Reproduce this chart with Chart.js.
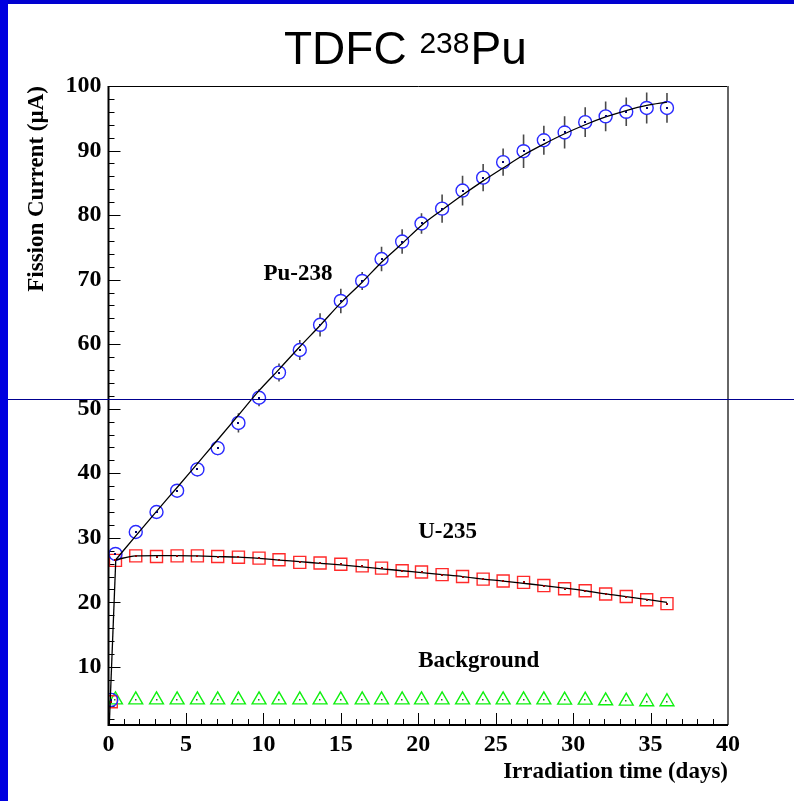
<!DOCTYPE html>
<html>
<head>
<meta charset="utf-8">
<script src="https://cdn.jsdelivr.net/npm/chart.js@4.4.0/dist/chart.umd.min.js"></script>
<style>
  html, body { margin: 0; padding: 0; background: #fff; }
  #wrap { position: relative; width: 794px; height: 801px; overflow: hidden; }
  #edgeTop { position: absolute; left: 0; top: 0; width: 794px; height: 4px; background: #0000d0; }
  #edgeLeft { position: absolute; left: 0; top: 0; width: 8px; height: 801px; background: #0000e0; }
  #titre { position: absolute; left: 284px; top: 25px; font: 46px "Liberation Sans", Arial, sans-serif;
           line-height: 46px; color: #000; white-space: nowrap; }
  #titre span { font-size: 30px; position: relative; top: -11px; margin-right: 1px; }
  canvas { position: absolute; left: 0; top: 0; }
</style>
</head>
<body>
<div id="wrap">
  <canvas id="c" width="794" height="801"></canvas>
  <div id="edgeTop"></div>
  <div id="edgeLeft"></div>
  <div id="titre">TDFC <span>238</span>Pu</div>
</div>
<script>
// irradiation days of each measurement
var days = [0.18, 0.45, 1.76, 3.10, 4.43, 5.74, 7.05, 8.39, 9.72, 11.01, 12.35, 13.66, 15.00, 16.38, 17.63,
            18.96, 20.21, 21.54, 22.86, 24.19, 25.48, 26.80, 28.11, 29.45, 30.78, 32.10, 33.43, 34.75, 36.06];
// fission current (uA)
var pu238 = [4.9, 27.5, 30.9, 34.0, 37.3, 40.6, 43.9, 47.8, 51.7, 55.6, 59.1, 63.0, 66.7, 69.8, 73.2,
             75.9, 78.7, 81.0, 83.8, 85.8, 88.2, 89.9, 91.6, 92.8, 94.4, 95.3, 96.0, 96.6, 96.6];
var pu238Err = [0, 0.6, 0.8, 0.8, 0.9, 1.1, 1.1, 1.5, 1.3, 1.4, 1.55, 1.8, 1.9, 1.4, 1.9,
                1.9, 1.6, 2.2, 2.3, 2.1, 2.1, 2.6, 2.25, 2.5, 2.3, 2.3, 2.2, 2.4, 2.3];
var u235 = [4.6, 26.5, 27.2, 27.1, 27.2, 27.2, 27.1, 27.0, 26.85, 26.6, 26.2, 26.1, 25.9, 25.65, 25.3,
            24.9, 24.7, 24.3, 24.0, 23.6, 23.3, 23.1, 22.6, 22.1, 21.8, 21.3, 20.9, 20.4, 19.8];
// background starts with the second measurement
var bgDays = days.slice(1);
var background = [4.9, 4.9, 4.9, 4.9, 4.9, 4.9, 4.9, 4.9, 4.9, 4.9, 4.9, 4.9, 4.9, 4.9,
                  4.9, 4.9, 4.9, 4.9, 4.9, 4.9, 4.9, 4.9, 4.85, 4.85, 4.75, 4.7, 4.6, 4.6];

// fitted curves: common steep rise, then one curve per target
var riseDays = [0.05, 0.47];
var riseFit = [1.0, 26.6];
var fitDays = [0.47, 1.76, 3.10, 4.43, 5.74, 7.05, 8.39, 9.72, 11.01, 12.35, 13.66, 15.00, 16.38, 17.63,
               18.96, 20.21, 21.54, 22.86, 24.19, 25.48, 26.80, 28.11, 29.45, 30.78, 32.10, 33.43, 34.75, 36.06];
var puFit = [26.6, 30.3, 34.1, 37.8, 41.5, 45.2, 49.0, 52.8, 56.1, 59.6, 62.9, 66.4, 69.6, 72.7,
             75.6, 78.4, 80.8, 83.1, 85.3, 87.3, 89.3, 91.0, 92.6, 94.0, 95.2, 96.2, 97.0, 97.5];
var uFit = [26.6, 27.2, 27.25, 27.25, 27.2, 27.1, 27.0, 26.8, 26.55, 26.3, 26.05, 25.8, 25.5, 25.2,
            24.9, 24.6, 24.3, 24.0, 23.6, 23.3, 22.95, 22.6, 22.2, 21.8, 21.3, 20.9, 20.45, 20.0];

var xTicks = [0, 5, 10, 15, 20, 25, 30, 35, 40];
var yTicks = [10, 20, 30, 40, 50, 60, 70, 80, 90, 100];

// text written on the pad (day, current)
var notes = [
  { text: 'Pu-238', x: 10, y: 70 },
  { text: 'U-235', x: 20, y: 30 },
  { text: 'Background', x: 20, y: 10 }
];
var cutLevel = 51.5;

var serif = '"Liberation Serif", "Times New Roman", serif';

function pts(xs, ys) {
  return xs.map(function (v, i) { return { x: v, y: ys[i] }; });
}

// ROOT style frame, ticks inside, error bars, centre dots
var rootPad = {
  id: 'rootPad',
  beforeDatasetsDraw: function (chart) {
    var ctx = chart.ctx, a = chart.chartArea, x = chart.scales.x, y = chart.scales.y;
    ctx.save();
    ctx.strokeStyle = '#000';
    ctx.lineWidth = 1;
    ctx.beginPath();
    for (var v = 0; v <= 40; v++) {
      var px = Math.round(x.getPixelForValue(v)) + 0.5;
      ctx.moveTo(px, a.bottom);
      ctx.lineTo(px, a.bottom - (v % 5 === 0 ? 12 : 6));
    }
    for (var w = 2; w <= 100; w += 2) {
      var py = Math.round(y.getPixelForValue(w)) + 0.5;
      ctx.moveTo(a.left, py);
      ctx.lineTo(a.left + (w % 10 === 0 ? 12 : 6), py);
    }
    ctx.stroke();

    // error bars, left open inside the marker
    ctx.strokeStyle = '#4a4a4a';
    ctx.lineWidth = 1.6;
    ctx.beginPath();
    days.forEach(function (d, i) {
      if (!pu238Err[i]) return;
      var cx = x.getPixelForValue(d);
      var cy = y.getPixelForValue(pu238[i]);
      var lo = y.getPixelForValue(pu238[i] - pu238Err[i]);
      var hi = y.getPixelForValue(pu238[i] + pu238Err[i]);
      if (cy - hi > 6) { ctx.moveTo(cx, hi); ctx.lineTo(cx, cy - 6); }
      if (lo - cy > 6) { ctx.moveTo(cx, cy + 6); ctx.lineTo(cx, lo); }
    });
    ctx.stroke();
    ctx.restore();
  },
  afterDatasetsDraw: function (chart) {
    var ctx = chart.ctx, a = chart.chartArea, x = chart.scales.x, y = chart.scales.y;
    ctx.save();
    function dots(xs, ys, col, sz) {
      ctx.fillStyle = col;
      xs.forEach(function (d, i) {
        ctx.fillRect(Math.round(x.getPixelForValue(d)) - 1, Math.round(y.getPixelForValue(ys[i])) - 1, sz, sz);
      });
    }
    dots(days, pu238, '#000070', 2);
    dots(days, u235, '#900000', 2);
    dots(bgDays, background, '#208020', 1.5);

    // frame
    ctx.lineWidth = 1;
    ctx.strokeStyle = '#000';
    ctx.beginPath();
    ctx.moveTo(a.left, a.top + 0.5);
    ctx.lineTo(a.right, a.top + 0.5);
    ctx.stroke();
    ctx.strokeStyle = '#666';
    ctx.lineWidth = 2;
    ctx.beginPath();
    ctx.moveTo(a.right, a.top);
    ctx.lineTo(a.right, a.bottom);
    ctx.stroke();
    ctx.strokeStyle = '#000';
    ctx.beginPath();
    ctx.moveTo(a.left, a.top);
    ctx.lineTo(a.left, a.bottom);
    ctx.lineTo(a.right, a.bottom);
    ctx.stroke();

    ctx.fillStyle = '#000';
    ctx.font = 'bold 23px ' + serif;
    ctx.textAlign = 'left';
    ctx.textBaseline = 'alphabetic';
    notes.forEach(function (n) {
      ctx.fillText(n.text, x.getPixelForValue(n.x), y.getPixelForValue(n.y));
    });
    ctx.restore();
  },
  afterDraw: function (chart) {
    var ctx = chart.ctx, y = chart.scales.y;
    var py = Math.round(y.getPixelForValue(cutLevel)) + 0.5;
    ctx.save();
    ctx.strokeStyle = '#000090';
    ctx.lineWidth = 1;
    ctx.beginPath();
    ctx.moveTo(0, py);
    ctx.lineTo(chart.width, py);
    ctx.stroke();
    ctx.restore();
  }
};

function fitLine(label, xs, ys, curved) {
  return { label: label, type: 'line', data: pts(xs, ys), borderColor: '#000', borderWidth: 1.3,
           pointRadius: 0, cubicInterpolationMode: curved ? 'monotone' : 'default', tension: 0,
           fill: false, order: 0, clip: 0 };
}

new Chart(document.getElementById('c'), {
  type: 'scatter',
  data: {
    datasets: [
      fitLine('rise', riseDays, riseFit, false),
      fitLine('Pu fit', fitDays, puFit, true),
      fitLine('U fit', fitDays, uFit, true),
      { label: 'Pu-238', data: pts(days, pu238), pointStyle: 'circle', pointRadius: 6.5,
        borderColor: '#2a2aff', pointBorderWidth: 1.4, backgroundColor: 'transparent', order: 1, clip: 0 },
      { label: 'U-235', data: pts(days, u235), pointStyle: 'rect', pointRadius: 8.5,
        borderColor: '#ff2a2a', pointBorderWidth: 1.4, backgroundColor: 'transparent', order: 1, clip: 0 },
      { label: 'Background', data: pts(bgDays, background), pointStyle: 'triangle', pointRadius: 8,
        borderColor: '#10f010', pointBorderWidth: 1.4, backgroundColor: 'transparent', order: 1, clip: 0 }
    ]
  },
  options: {
    responsive: false,
    animation: false,
    events: [],
    layout: { padding: { top: 86, left: 8, right: 66, bottom: 0 } },
    plugins: { legend: { display: false }, tooltip: { enabled: false }, title: { display: false } },
    scales: {
      x: {
        type: 'linear', min: 0, max: 40,
        afterBuildTicks: function (s) { s.ticks = xTicks.map(function (v) { return { value: v }; }); },
        afterFit: function (s) { s.height = 76; },
        grid: { display: false, drawTicks: false },
        border: { display: false },
        ticks: { color: '#000', padding: 5, maxRotation: 0, font: { family: serif, size: 24, weight: 'bold' } },
        title: { display: true, text: 'Irradiation time (days)', align: 'end', color: '#000',
                 font: { family: serif, size: 23, weight: 'bold' }, padding: { top: 0, bottom: 15 } }
      },
      y: {
        type: 'linear', min: 1, max: 100,
        afterBuildTicks: function (s) { s.ticks = yTicks.map(function (v) { return { value: v }; }); },
        afterFit: function (s) { s.width = 100.5; },
        grid: { display: false, drawTicks: false },
        border: { display: false },
        ticks: { color: '#000', padding: 7, font: { family: serif, size: 24, weight: 'bold' } },
        title: { display: true, text: 'Fission Current (µA)', align: 'end', color: '#000',
                 font: { family: serif, size: 23, weight: 'bold' }, padding: { top: 15, bottom: 0 } }
      }
    }
  },
  plugins: [rootPad]
});
</script>
</body>
</html>
